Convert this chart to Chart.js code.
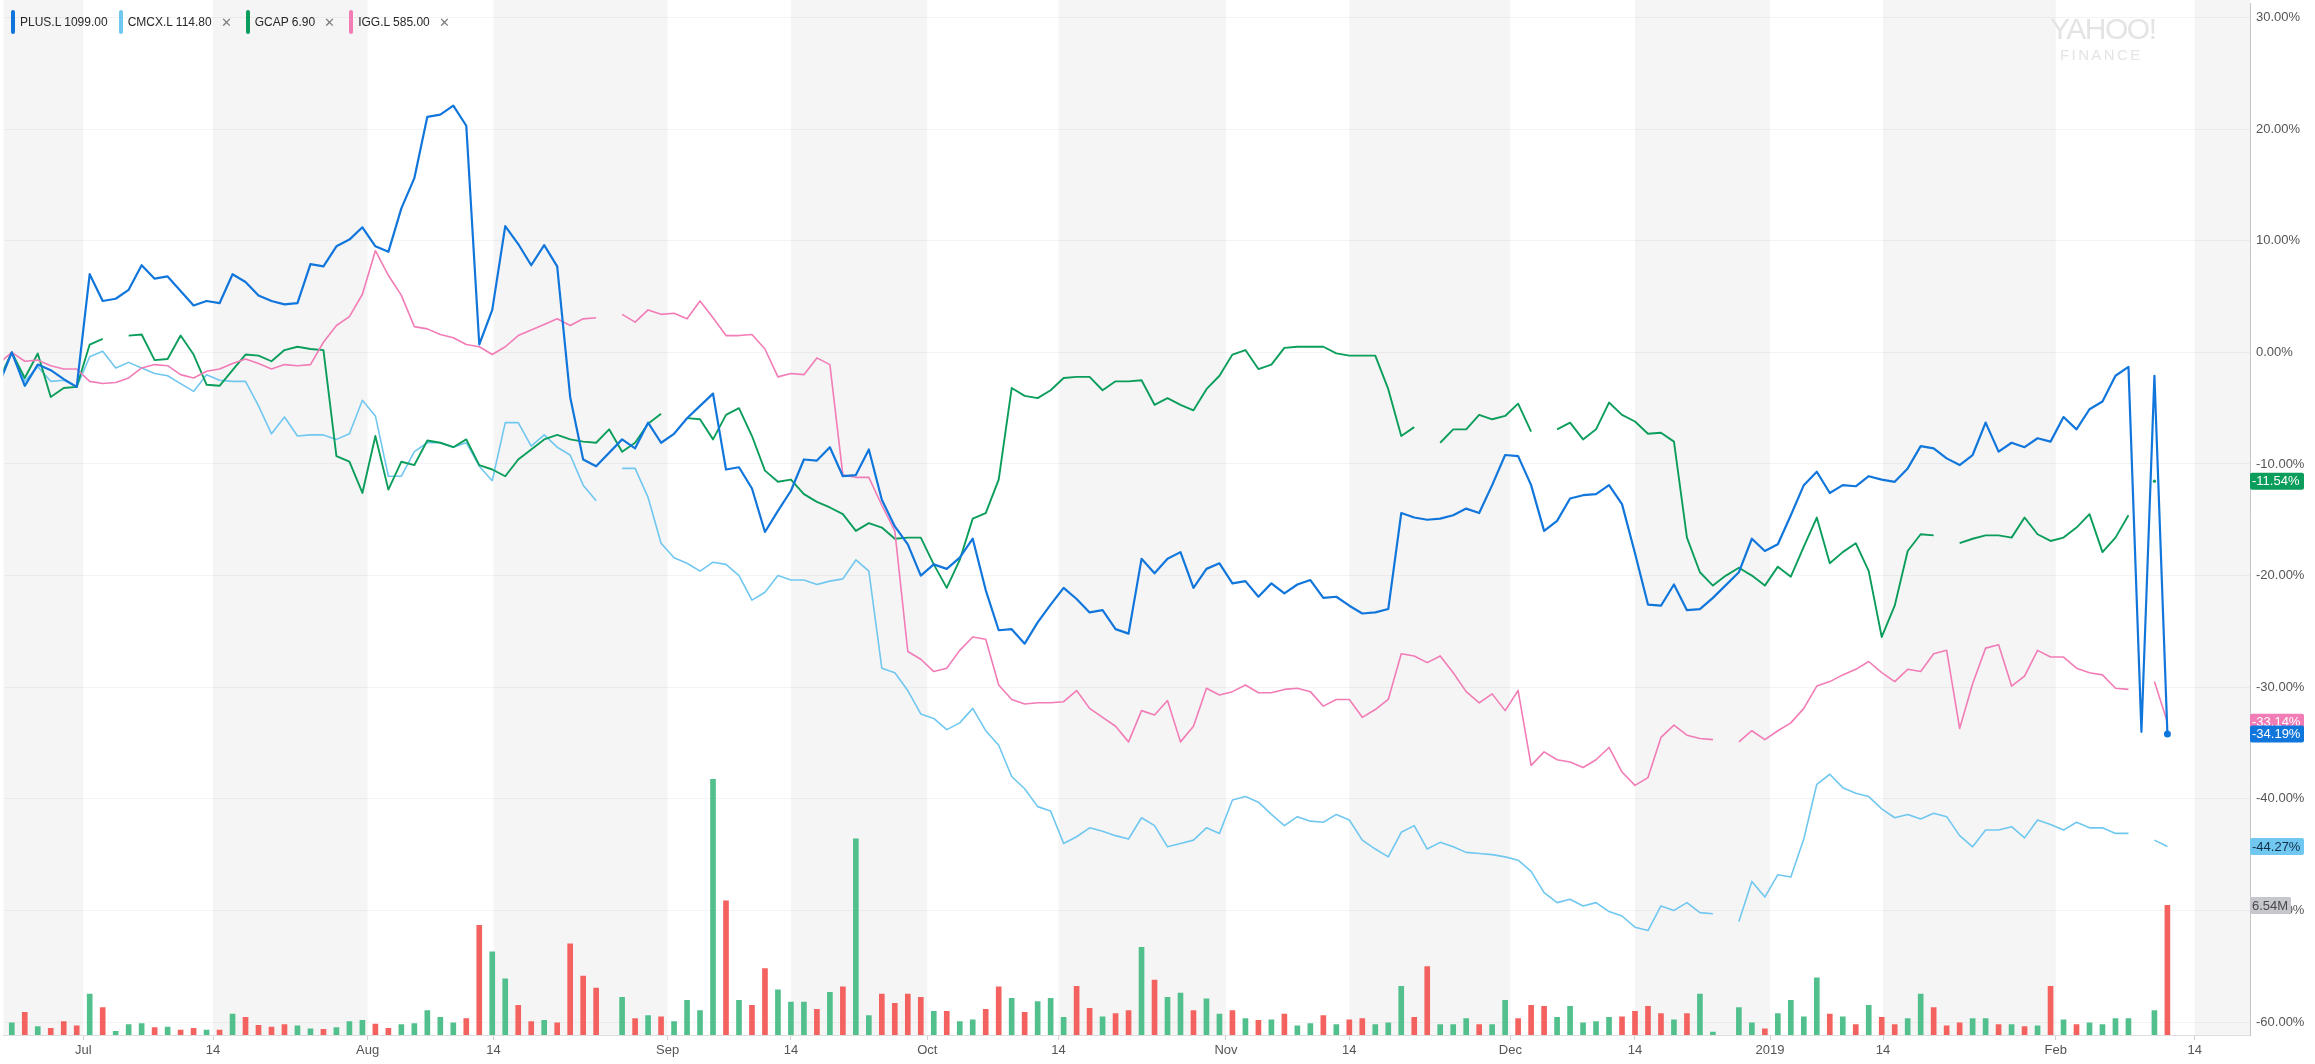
<!DOCTYPE html>
<html>
<head>
<meta charset="utf-8">
<title>PLUS.L comparison</title>
<script src="https://cdn.jsdelivr.net/npm/chart.js@4.4.1/dist/chart.umd.min.js"></script>
<style>
    body { margin: 0; background: #fff; font-family: 'Helvetica Neue', Helvetica, Arial, sans-serif; }
    #wrap { position: relative; width: 2315px; height: 1064px; }
    #legend { position: absolute; left: 11px; top: 10px; height: 24px; display: flex; align-items: center; font-size: 12px; color: #26282a; }
    .item { display: flex; align-items: center; margin-right: 14px; white-space: nowrap; }
    .item:first-child { margin-right: 11px; }
    .swatch { width: 4px; height: 24px; border-radius: 2px; margin-right: 5px; }
    .close { margin-left: 9px; color: #7d7d7d; font-size: 13px; }
    #brand { position: absolute; left: 2050px; top: 14px; color: #e4e4e4; line-height: 1; pointer-events: none; }
    #brand .big { font-size: 30px; letter-spacing: -1.5px; }
    #brand .small { font-size: 15px; letter-spacing: 2.4px; margin-left: 10px; margin-top: 3px; }
</style>
</head>
<body>
<div id="wrap">
    <canvas id="compareChart"></canvas>
    <div id="legend"></div>
    <div id="brand"><div class="big">YAHOO!</div><div class="small">FINANCE</div></div>
</div>
<script>
// % change from the start of the range, one entry per trading day (first entry is the day before the base)
const plusL = [
    -2.9, 0, -3.0, -1.1, -1.6, -2.4, -3.1, 7.0, 4.6, 4.8, 5.6, 7.8, 6.6, 6.8, 5.5, 4.2, 4.6, 4.4, 7.0, 6.3, 5.1,
    4.6, 4.3, 4.4, 7.9, 7.7, 9.5, 10.1, 11.2, 9.5, 9.0, 12.9, 15.6, 21.1, 21.3, 22.1, 20.3, 0.7, 3.8, 11.3, 9.7,
    7.8, 9.6, 7.7, -4.0, -9.6, -10.2, null, -7.8, -8.6, -6.3, -8.1, -7.3, -5.9, -4.8, -3.7, -10.5, -10.3, -12.2,
    -16.1, -14.2, -12.4, -9.6, -9.7, -8.5, -11.1, -11.0, -8.7, -13.2, -15.6, -17.2, -20.0, -19.0, -19.4, -18.4,
    -16.7, -21.3, -24.9, -24.8, -26.1, -24.2, -22.6, -21.1, -22.1, -23.3, -23.1, -24.8, -25.2, -18.5, -19.8, -18.5,
    -17.9, -21.1, -19.4, -18.9, -20.7, -20.5, -21.9, -20.7, -21.6, -20.8, -20.4, -22.0, -21.9, -22.7, -23.4, -23.3,
    -23.0, -14.4, -14.8, -15.0, -14.9, -14.6, -14.0, -14.4, -11.9, -9.2, -9.3, -11.9, -16.0, -15.1, -13.1, -12.8,
    -12.7, -11.9, -13.6, -18.0, -22.6, -22.7, -20.8, -23.1, -23.0, -22.0, null, -19.7, -16.7, -17.8, -17.2, -14.6,
    -11.9, -10.7, -12.6, -11.9, -12.0, -11.1, -11.4, -11.6, -10.4, -8.4, -8.6, -9.5, -10.1, -9.2, -6.3, -8.9, -8.1,
    -8.5, -7.7, -8.0, -5.8, -6.9, -5.1, -4.4, -2.1, -1.3, -34.0, -2.1, -34.19
];
const cmcxL = [
    -2.5, 0, -2.6, -1.3, -2.6, -2.5, -3.1, -0.4, 0.1, -1.4, -0.9, -1.4, -1.9, -2.1, -2.8, -3.5, -2.0, -2.5, -2.6,
    -2.6, -4.8, -7.3, -5.8, -7.5, -7.4, -7.4, -7.8, -7.3, -4.3, -5.7, -11.1, -11.1, -8.9, -8.1, -8.1, -8.5, -8.1,
    -10.2, -11.5, -6.3, -6.3, -8.4, -7.4, -8.5, -9.2, -11.9, -13.3, null, -10.4, -10.4, -13.0, -17.1, -18.4, -18.9,
    -19.6, -18.8, -19.0, -20.0, -22.2, -21.5, -20.0, -20.4, -20.4, -20.8, -20.5, -20.3, -18.6, -19.6, -28.3, -28.7,
    -30.3, -32.4, -32.8, -33.8, -33.2, -31.9, -33.9, -35.2, -38.0, -39.1, -40.7, -41.1, -44.0, -43.4, -42.6, -42.9,
    -43.3, -43.6, -41.7, -42.4, -44.3, -44.0, -43.7, -42.6, -43.1, -40.1, -39.8, -40.3, -41.4, -42.4, -41.6, -42.0,
    -42.1, -41.4, -41.9, -43.7, -44.5, -45.2, -43.0, -42.4, -44.5, -43.9, -44.3, -44.8, -44.9, -45.0, -45.2, -45.5,
    -46.5, -48.4, -49.3, -49.0, -49.6, -49.3, -50.1, -50.5, -51.5, -51.8, -49.6, -50.0, -49.3, -50.2, -50.3, null,
    -51.0, -47.4, -48.8, -46.8, -47.0, -43.6, -38.7, -37.8, -39.0, -39.5, -39.8, -40.9, -41.7, -41.4, -41.8, -41.3,
    -41.6, -43.3, -44.3, -42.8, -42.8, -42.5, -43.5, -41.9, -42.3, -42.8, -42.1, -42.6, -42.6, -43.1, -43.1, null,
    -43.7, -44.27
];
const gcap = [
    -2.5, 0, -2.3, -0.1, -4.0, -3.2, -3.1, 0.7, 1.2, null, 1.5, 1.6, -0.7, -0.6, 1.5, -0.2, -2.9, -3.0, -1.6, -0.2,
    -0.3, -0.8, 0.2, 0.5, 0.3, 0.2, -9.3, -9.8, -12.6, -7.5, -12.3, -9.8, -10.1, -7.9, -8.1, -8.5, -7.8, -10.1,
    -10.5, -11.1, -9.6, -8.7, -7.8, -7.4, -7.8, -8.0, -8.1, -6.9, -8.9, -8.1, -6.4, -5.5, null, -5.9, -6.0, -7.8,
    -5.6, -5.0, -7.5, -10.6, -11.6, -11.4, -12.7, -13.4, -13.9, -14.5, -16.0, -15.3, -15.7, -16.7, -16.6, -16.6,
    -19.0, -21.1, -18.6, -14.9, -14.4, -11.4, -3.2, -3.9, -4.1, -3.4, -2.3, -2.2, -2.2, -3.4, -2.6, -2.6, -2.5,
    -4.7, -4.1, -4.7, -5.2, -3.3, -2.1, -0.2, 0.2, -1.5, -1.1, 0.4, 0.5, 0.5, 0.5, -0.1, -0.3, -0.3, -0.3, -3.3,
    -7.5, -6.7, null, -8.1, -6.9, -6.9, -5.6, -6.0, -5.7, -4.6, -7.1, null, -6.9, -6.3, -7.8, -6.9, -4.5, -5.6,
    -6.2, -7.3, -7.2, -8.0, -16.6, -19.7, -20.9, -20.0, -19.3, -20.0, -20.9, -19.2, -20.1, -17.4, -14.8, -18.9,
    -17.9, -17.1, -19.6, -25.5, -22.7, -17.8, -16.3, -16.4, null, -17.1, -16.7, -16.4, -16.4, -16.6, -14.8, -16.3,
    -16.9, -16.6, -15.7, -14.5, -17.9, -16.6, -14.6, null, -11.54, null
];
const iggL = [
    -1.0, 0, -0.8, -0.7, -1.2, -1.5, -1.5, -2.6, -2.8, -2.7, -2.3, -1.4, -1.1, -1.2, -2.0, -2.3, -1.7, -1.5, -1.0,
    -0.6, -1.0, -1.5, -1.1, -1.2, -1.1, 0.9, 2.4, 3.2, 5.2, 9.1, 6.9, 5.1, 2.3, 2.1, 1.6, 1.3, 0.7, 0.5, -0.2, 0.5,
    1.5, 2.0, 2.5, 3.0, 2.4, 3.0, 3.1, null, 3.4, 2.7, 3.8, 3.4, 3.5, 3.0, 4.6, 3.1, 1.5, 1.5, 1.6, 0.3, -2.2, -1.9,
    -2.0, -0.5, -1.1, -11.0, -11.2, -11.2, -13.7, -16.0, -26.8, -27.5, -28.6, -28.3, -26.7, -25.5, -25.7, -29.8,
    -31.1, -31.5, -31.4, -31.4, -31.3, -30.3, -31.9, -32.7, -33.5, -34.9, -32.1, -32.5, -31.2, -34.9, -33.5, -30.1,
    -30.7, -30.4, -29.8, -30.5, -30.5, -30.2, -30.1, -30.4, -31.7, -31.1, -31.1, -32.7, -32.0, -31.1, -27.0, -27.2,
    -27.8, -27.2, -28.7, -30.4, -31.4, -30.6, -32.1, -30.3, -37.0, -35.8, -36.5, -36.7, -37.2, -36.5, -35.4, -37.6,
    -38.8, -38.1, -34.5, -33.4, -34.3, -34.6, -34.7, null, -34.9, -33.9, -34.7, -33.9, -33.2, -31.9, -29.9, -29.5,
    -28.9, -28.4, -27.7, -28.7, -29.5, -28.4, -28.6, -27.0, -26.7, -33.7, -29.7, -26.5, -26.2, -29.9, -29.0, -26.7,
    -27.3, -27.3, -28.3, -28.7, -28.9, -30.1, -30.2, null, -29.5, -33.14
];
// PLUS.L volume, millions
const plusVolume = [
    null, 0.62, 1.14, 0.43, 0.34, 0.68, 0.46, 2.06, 1.38, 0.18, 0.52, 0.58, 0.37, 0.40, 0.25, 0.34, 0.25, 0.25,
    1.05, 0.89, 0.49, 0.40, 0.52, 0.46, 0.31, 0.28, 0.37, 0.68, 0.74, 0.55, 0.34, 0.52, 0.58, 1.23, 0.89, 0.62,
    0.83, 5.54, 4.20, 2.83, 1.50, 0.68, 0.74, 0.62, 4.60, 2.98, 2.37, null, 1.90, 0.83, 0.98, 0.92, 0.68, 1.75,
    1.23, 12.9, 6.77, 1.75, 1.50, 3.35, 2.28, 1.66, 1.66, 1.29, 2.15, 2.43, 9.9, 0.98, 2.06, 1.60, 2.06, 1.90,
    1.20, 1.20, 0.68, 0.77, 1.29, 2.43, 1.85, 1.14, 1.69, 1.85, 0.89, 2.46, 1.35, 0.92, 1.08, 1.23, 4.43, 2.77,
    1.90, 2.12, 1.23, 1.82, 1.05, 1.23, 0.83, 0.74, 0.77, 1.05, 0.46, 0.58, 0.98, 0.52, 0.77, 0.83, 0.52, 0.62,
    2.46, 0.89, 3.45, 0.52, 0.52, 0.83, 0.52, 0.52, 1.75, 0.83, 1.50, 1.45, 0.89, 1.45, 0.62, 0.68, 0.89, 0.92,
    1.20, 1.45, 1.08, 0.77, 1.08, 2.06, 0.15, null, 1.38, 0.62, 0.31, 1.08, 1.75, 0.92, 2.89, 1.05, 0.92, 0.52,
    1.50, 0.89, 0.52, 0.83, 2.06, 1.38, 0.46, 0.62, 0.83, 0.83, 0.52, 0.52, 0.43, 0.46, 2.46, 0.77, 0.52, 0.62,
    0.52, 0.83, 0.83, null, 1.23, 6.54
];

// axis ticks sit on the half-month boundaries (in trading-day units)
const xTickPos = [5.5, 15.5, 27.4, 37.1, 50.5, 60.0, 70.5, 80.6, 93.5, 103.0, 115.4, 125.0, 135.4, 144.1, 157.4, 168.1];
const xTickLabels = ['Jul', '14', 'Aug', '14', 'Sep', '14', 'Oct', '14', 'Nov', '14', 'Dec', '14', '2019', '14', 'Feb', '14'];
const yTicks = [30, 20, 10, 0, -10, -20, -30, -40, -50, -60];

const series = [
    { label: 'PLUS.L', price: '1099.00', data: plusL, color: '#1176db', text: '#fff', width: 2.2, main: true },
    { label: 'CMCX.L', price: '114.80', data: cmcxL, color: '#70c7ef', text: '#12314d', width: 1.6 },
    { label: 'GCAP', price: '6.90', data: gcap, color: '#0b9d5b', text: '#fff', width: 1.9 },
    { label: 'IGG.L', price: '585.00', data: iggL, color: '#f27cb6', text: '#fff', width: 1.6 }
];

const UP_COLOR = '#52c08d';
const DOWN_COLOR = '#f4625f';
const FONT = "'Helvetica Neue', Helvetica, Arial, sans-serif";

function toPoints(values) {
    return values.map((v, i) => ({ x: i - 1, y: v }));
}

function lastValue(values) {
    for (let i = values.length - 1; i >= 0; i--) {
        if (values[i] !== null) return values[i];
    }
    return null;
}

// Volume bars green when PLUS.L closed up on the day
function volumeColors() {
    let prev = null;
    return plusL.map(v => {
        const up = prev === null || v === null || v >= prev;
        if (v !== null) prev = v;
        return up ? UP_COLOR : DOWN_COLOR;
    });
}

// Build legend
function buildLegend() {
    const legend = document.getElementById('legend');
    series.forEach(s => {
        const item = document.createElement('div');
        item.className = 'item';
        item.innerHTML = `
            <span class="swatch" style="background:${s.color}"></span>
            <span>${s.label} ${s.price}</span>
            ${s.main ? '' : '<span class="close">✕</span>'}
        `;
        legend.appendChild(item);
    });
}

// Alternating half-month background bands
const bandsPlugin = {
    id: 'bands',
    beforeDraw(chart) {
        const { ctx, chartArea: area, scales: { x } } = chart;
        ctx.save();
        ctx.fillStyle = '#ffffff';
        ctx.fillRect(0, 0, chart.width, chart.height);
        const edges = [x.min, ...xTickPos, x.max];
        ctx.fillStyle = '#f5f5f5';
        for (let k = 0; k < edges.length - 1; k += 2) {
            const x0 = x.getPixelForValue(edges[k]);
            const x1 = x.getPixelForValue(edges[k + 1]);
            ctx.fillRect(x0, 0, x1 - x0, area.bottom);
        }
        ctx.restore();
    }
};

function roundRect(ctx, x, y, w, h, r) {
    ctx.beginPath();
    ctx.moveTo(x + r, y);
    ctx.arcTo(x + w, y, x + w, y + h, r);
    ctx.arcTo(x + w, y + h, x, y + h, r);
    ctx.arcTo(x, y + h, x, y, r);
    ctx.arcTo(x, y, x + w, y, r);
    ctx.closePath();
}

// Last-value badges on the right axis
const badgesPlugin = {
    id: 'badges',
    afterDraw(chart) {
        const { ctx, chartArea: area, scales: { y, yVol } } = chart;
        const badges = [series[2], series[3], series[0], series[1]].map(s => {
            const v = lastValue(s.data);
            return { y: y.getPixelForValue(v), text: v.toFixed(2) + '%', bg: s.color, fg: s.text, w: 54 };
        });
        const vol = lastValue(plusVolume);
        badges.push({ y: yVol.getPixelForValue(vol), text: vol.toFixed(2) + 'M', bg: '#c6c6cd', fg: '#4a4a4a', w: 41 });

        ctx.save();
        ctx.font = '13px ' + FONT;
        ctx.textBaseline = 'middle';
        badges.forEach(b => {
            ctx.fillStyle = b.bg;
            roundRect(ctx, area.right, b.y - 8.5, b.w, 17, 2);
            ctx.fill();
            ctx.fillStyle = b.fg;
            ctx.textAlign = 'left';
            ctx.fillText(b.text, area.right + 2, b.y + 0.5);
        });
        ctx.restore();
    }
};

function createChart() {
    const ctx = document.getElementById('compareChart').getContext('2d');
    const volColors = volumeColors();

    const lineSets = series.map((s, idx) => ({
        type: 'line',
        label: s.label,
        data: toPoints(s.data),
        borderColor: s.color,
        backgroundColor: s.color,
        borderWidth: s.width,
        tension: 0,
        spanGaps: !!s.main,
        order: idx === 0 ? 1 : 5 - idx,
        yAxisID: 'y',
        pointRadius: c => {
            const i = c.dataIndex;
            const d = s.data;
            if (s.main) return i === d.length - 1 ? 3.5 : 0;
            return d[i] !== null && d[i - 1] == null && d[i + 1] == null ? 1.6 : 0;
        },
        pointBorderWidth: 0,
        pointHoverRadius: 0,
        borderJoinStyle: 'round'
    }));

    return new Chart(ctx, {
        data: {
            datasets: [
                ...lineSets,
                {
                    type: 'bar',
                    label: 'Volume',
                    data: toPoints(plusVolume),
                    backgroundColor: volColors,
                    barThickness: 5,
                    yAxisID: 'yVol',
                    order: 10
                }
            ]
        },
        options: {
            responsive: true,
            maintainAspectRatio: false,
            animation: false,
            layout: { padding: 0 },
            plugins: {
                legend: { display: false },
                tooltip: { enabled: false }
            },
            scales: {
                x: {
                    type: 'linear',
                    offset: false,
                    min: -0.638,
                    max: 172.36,
                    afterBuildTicks: s => { s.ticks = xTickPos.map(v => ({ value: v })); },
                    afterFit: s => { s.height = 29; s.paddingLeft = 0; s.paddingRight = 0; },
                    ticks: {
                        callback: (v, i) => xTickLabels[i],
                        autoSkip: false,
                        maxRotation: 0,
                        minRotation: 0,
                        padding: 3,
                        color: '#555',
                        font: { family: FONT, size: 13 }
                    },
                    grid: { offset: false, drawOnChartArea: false, drawTicks: true, tickLength: 5, color: '#cfcfcf' },
                    border: { display: true, color: '#dedede' }
                },
                y: {
                    position: 'right',
                    min: -61.16,
                    max: 31.25,
                    afterBuildTicks: s => { s.ticks = yTicks.map(v => ({ value: v })); },
                    afterFit: s => { s.width = 65; s.paddingTop = 0; s.paddingBottom = 0; },
                    ticks: {
                        callback: v => v.toFixed(2) + '%',
                        padding: 6,
                        color: '#555',
                        font: { family: FONT, size: 13 }
                    },
                    grid: { color: 'rgba(0,0,0,0.045)', drawTicks: false },
                    border: { display: true, color: '#c6c6c6' }
                },
                yVol: {
                    display: false,
                    min: 0,
                    max: 52.07
                }
            }
        },
        plugins: [bandsPlugin, badgesPlugin]
    });
}

document.addEventListener('DOMContentLoaded', () => {
    buildLegend();
    createChart();
});
</script>
</body>
</html>
